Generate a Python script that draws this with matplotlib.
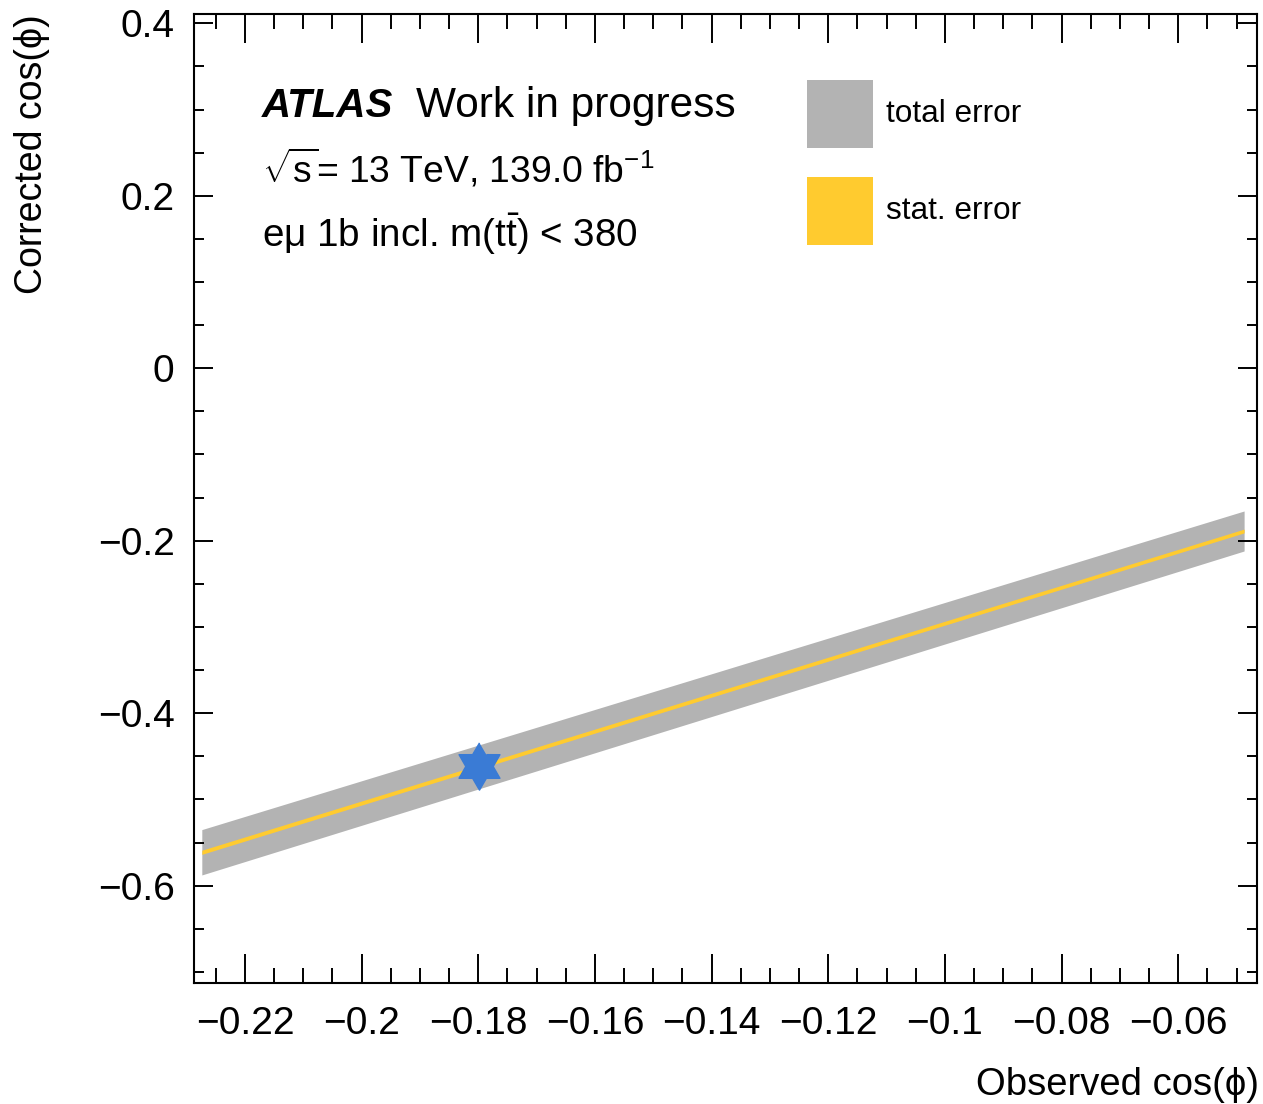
import matplotlib
matplotlib.use("Agg")
import numpy as np
import matplotlib.pyplot as plt
from matplotlib.patches import Rectangle
from matplotlib.ticker import MultipleLocator, FuncFormatter

plt.rcParams['font.family'] = ['Liberation Sans', 'DejaVu Sans']
plt.rcParams['mathtext.fontset'] = 'custom'
plt.rcParams['mathtext.rm'] = 'Liberation Sans'
plt.rcParams['mathtext.it'] = 'Liberation Sans:italic'
plt.rcParams['mathtext.bf'] = 'Liberation Sans:bold'

# calibration line (observed -> corrected)
obs = [-0.2274, -0.0487]
corr = [-0.5613, -0.1887]
tot_err = [0.0263, 0.0232]
stat_err = [0.0024, 0.0022]

# measured point
pt_obs = -0.1798
pt_corr = -0.4612

def fmt(v, pos):
    s = "%g" % round(v, 4)
    if s == "-0":
        s = "0"
    return s.replace("-", "\u2212")

# six-pointed star marker (hexagram outline)
ang = np.pi / 2 + np.arange(12) * np.pi / 6
rad = np.where(np.arange(12) % 2 == 0, 1.0, 0.58)
star = list(zip(rad * np.cos(ang), rad * np.sin(ang)))

fig = plt.figure(figsize=(12.63, 11.04), dpi=100)
ax = fig.add_axes([0.1536, 0.1099, 0.9952 - 0.1536, 0.9873 - 0.1099])

lo = [c - e for c, e in zip(corr, tot_err)]
hi = [c + e for c, e in zip(corr, tot_err)]
ax.fill_between(obs, lo, hi, color="#b3b3b3", lw=0)
lo = [c - e for c, e in zip(corr, stat_err)]
hi = [c + e for c, e in zip(corr, stat_err)]
ax.fill_between(obs, lo, hi, color="#ffcb2f", lw=0)

ax.plot([pt_obs], [pt_corr], marker=star, ms=34, color="#3a7bd5", mec="#3a7bd5", ls="none")

ax.set_xlim(-0.22874, -0.0465)
ax.set_ylim(-0.7125, 0.4108)

ax.xaxis.set_major_locator(MultipleLocator(0.02))
ax.xaxis.set_minor_locator(MultipleLocator(0.005))
ax.yaxis.set_major_locator(MultipleLocator(0.2))
ax.yaxis.set_minor_locator(MultipleLocator(0.05))
ax.xaxis.set_major_formatter(FuncFormatter(fmt))
ax.yaxis.set_major_formatter(FuncFormatter(fmt))

ax.tick_params(which="both", direction="in", top=True, right=True, width=1.4, labelsize=28)
ax.tick_params(axis="x", which="major", length=21, pad=17)
ax.tick_params(axis="x", which="minor", length=11)
ax.tick_params(axis="y", which="major", length=14, pad=14)
ax.tick_params(axis="y", which="minor", length=7)
for sp in ax.spines.values():
    sp.set_linewidth(1.5)

# labels
fig.text(1259 / 1263, 9 / 1104, "Observed cos(\u03d5)", ha="right", va="baseline", fontsize=27.5)
fig.text(32 / 1263, 1 - 14 / 1104, "Corrected cos(\u03d5)", ha="center", va="top", rotation=90, fontsize=27)

# ATLAS label
ax.text(0.064, 0.8937, "ATLAS", transform=ax.transAxes, fontsize=29,
        fontweight="bold", fontstyle="italic", va="baseline")
ax.text(0.2088, 0.8937, "Work in progress", transform=ax.transAxes, fontsize=30.5, va="baseline")
ax.text(0.064, 0.826, r"$\sqrt{\mathrm{s}}$= 13 TeV, 139.0 fb$^{-1}$", transform=ax.transAxes,
        fontsize=26.8, va="baseline")
ax.text(0.064, 0.759, "e\u03bc 1b incl. m(t$\\bar{\\mathrm{t}}$) < 380",
        transform=ax.transAxes, fontsize=27.8, va="baseline")

# legend
ax.add_patch(Rectangle((0.5767, 0.8617), 0.0621, 0.0702, transform=ax.transAxes,
                       color="#b3b3b3", lw=0))
ax.add_patch(Rectangle((0.5767, 0.7615), 0.0621, 0.0702, transform=ax.transAxes,
                       color="#ffcb2f", lw=0))
ax.text(0.651, 0.8967, "total error", transform=ax.transAxes, fontsize=22.7, va="center")
ax.text(0.651, 0.7965, "stat. error", transform=ax.transAxes, fontsize=22.7, va="center")

fig.savefig("out.png", dpi=100)
